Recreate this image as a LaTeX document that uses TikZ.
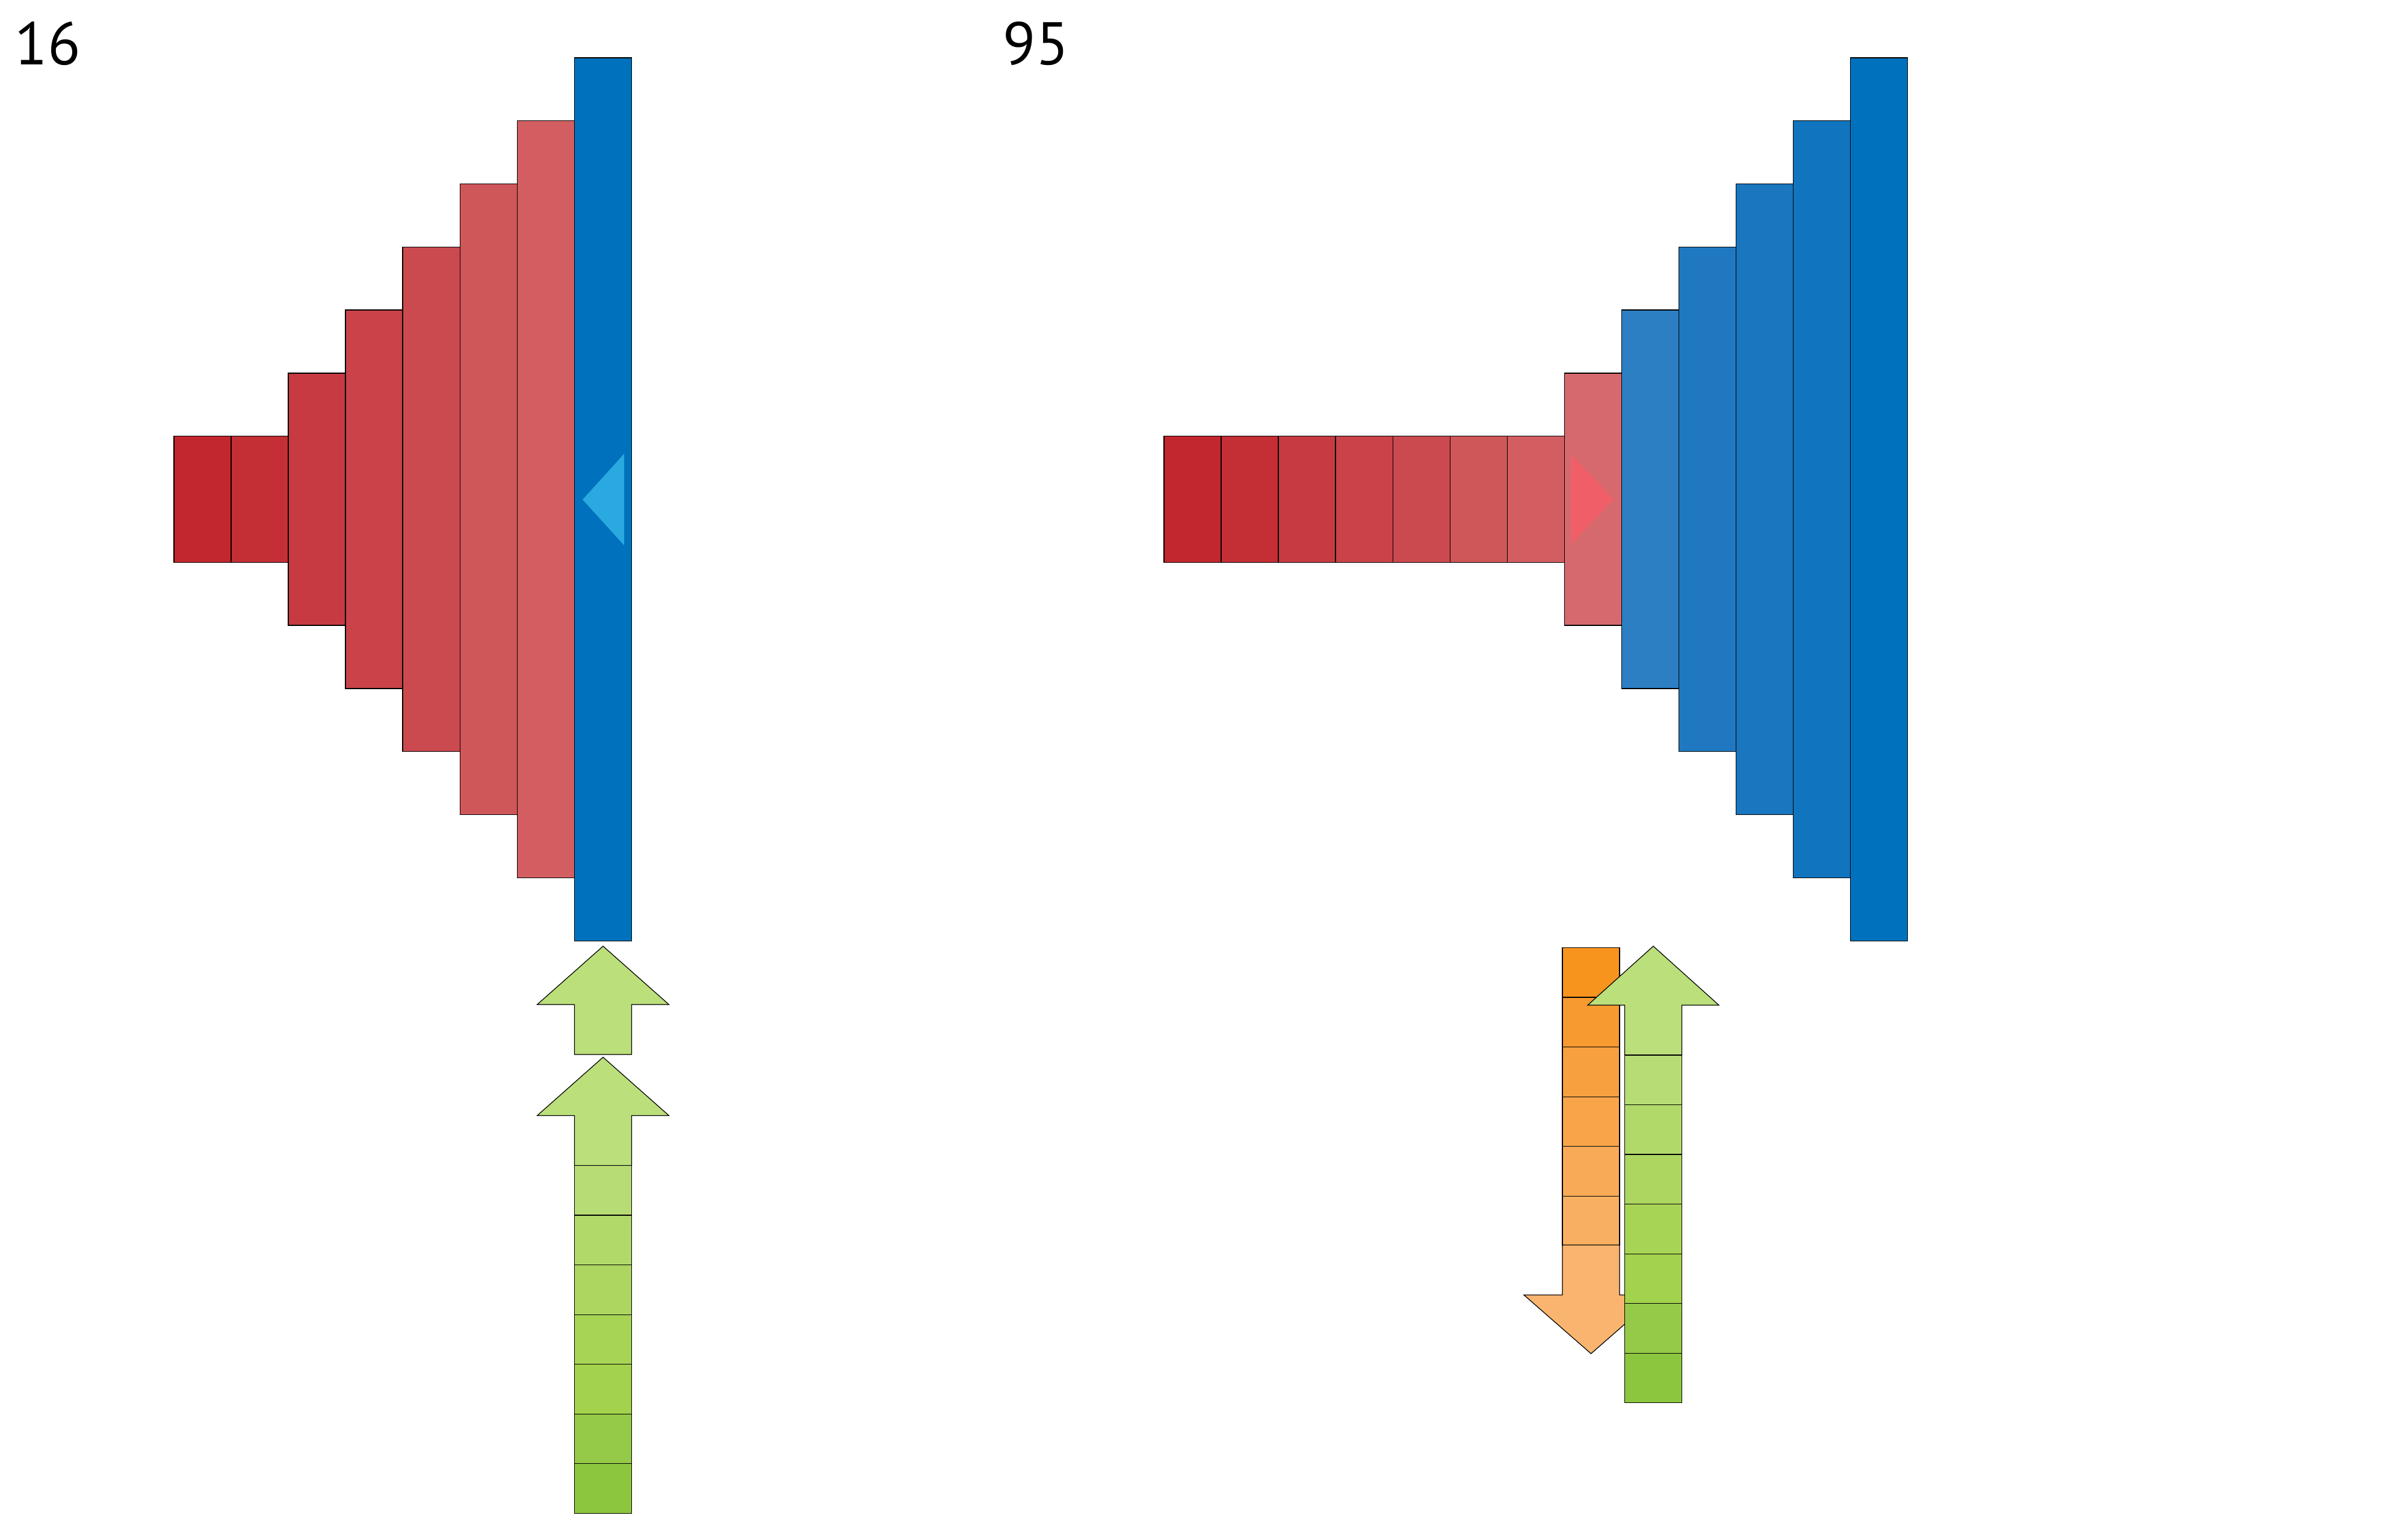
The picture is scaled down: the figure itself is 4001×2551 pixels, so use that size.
\documentclass[tikz,border=0pt]{standalone}
\usepackage{fontspec}
\setmainfont{PT Sans}
\usepackage{tikz}
\usetikzlibrary{positioning}
\usepackage{xcolor}

\definecolor{rojoA}{HTML}{C1272D}
\definecolor{rojoB}{HTML}{C42E35}
\definecolor{rojoC}{HTML}{C73A41}
\definecolor{rojoD}{HTML}{C94349}
\definecolor{rojoE}{HTML}{CB4A4F}
\definecolor{rojoF}{HTML}{CF5659}
\definecolor{rojoG}{HTML}{D25E61}
\definecolor{rosa}{HTML}{D6696D}
\definecolor{azul}{HTML}{0071BC}
\definecolor{azulA}{HTML}{2C7FC3}
\definecolor{azulB}{HTML}{2079C0}
\definecolor{azulC}{HTML}{1A76BF}
\definecolor{azulD}{HTML}{1074BE}
\definecolor{celeste}{HTML}{29A9E0}
\definecolor{salmon}{HTML}{F05F68}
\definecolor{verdeP}{HTML}{BBDF7B}
\definecolor{verdeA}{HTML}{B7DC75}
\definecolor{verdeB}{HTML}{B1D96A}
\definecolor{verdeC}{HTML}{ACD660}
\definecolor{verdeD}{HTML}{A8D456}
\definecolor{verdeE}{HTML}{A3D24C}
\definecolor{verdeF}{HTML}{94CA48}
\definecolor{verdeG}{HTML}{8CC63F}
\definecolor{naranjaA}{HTML}{F7941D}
\definecolor{naranjaB}{HTML}{F79A2F}
\definecolor{naranjaC}{HTML}{F7A03F}
\definecolor{naranjaD}{HTML}{F8A54A}
\definecolor{naranjaE}{HTML}{F8AA56}
\definecolor{naranjaF}{HTML}{F9AF61}
\definecolor{naranjaP}{HTML}{F9B46F}

\begin{document}
\begin{tikzpicture}[x=0.01cm,y=-0.01cm]
\tikzset{
    barra/.style={rectangle, draw=black, line width=0.4pt, minimum width=0.95cm,
                  inner sep=0pt, outer sep=0pt},
    celda/.style={rectangle, draw=black, line width=0.35pt, minimum width=0.95cm,
                  minimum height=0.825cm, inner sep=0pt, outer sep=0pt},
    flecha/.style={draw=black, line width=0.35pt, line join=miter},
    punta/.style={draw=none},
    etiqueta/.style={inner sep=0pt, anchor=base west, font=\fontsize{28.5}{28.5}\selectfont}
}
\useasboundingbox (0,0) rectangle (4001,2551);

% panel izquierdo
\node[etiqueta] (t16) at (24,107) {16};
\node[barra, fill=rojoA, minimum height=2.095cm] (i1) at (336.5,829.5) {};
\node[barra, fill=rojoB, minimum height=2.095cm, right=0cm of i1] (i2) {};
\node[barra, fill=rojoC, minimum height=4.19cm, right=0cm of i2] (i3) {};
\node[barra, fill=rojoD, minimum height=6.285cm, right=0cm of i3] (i4) {};
\node[barra, fill=rojoE, minimum height=8.38cm, right=0cm of i4] (i5) {};
\node[barra, fill=rojoF, minimum height=10.475cm, right=0cm of i5] (i6) {};
\node[barra, fill=rojoG, minimum height=12.57cm, right=0cm of i6] (i7) {};
\node[barra, fill=azul, minimum height=14.665cm, right=0cm of i7] (iazul) {};
\fill[punta, celeste] (968,830) -- (1037,754) -- (1037,906) -- cycle;

\fill[flecha, fill=verdeP] (954.5,1752) -- (954.5,1669) -- (892.5,1669) -- (1002,1572)
    -- (1111.5,1669) -- (1049.5,1669) -- (1049.5,1752) -- cycle;
\fill[flecha, fill=verdeP] (954.5,1936.5) -- (954.5,1853.5) -- (892.5,1853.5) -- (1002,1756.5)
    -- (1111.5,1853.5) -- (1049.5,1853.5) -- (1049.5,1936.5) -- cycle;
\node[celda, fill=verdeA] (vi1) at (1002,1977.75) {};
\node[celda, fill=verdeB, below=0cm of vi1] (vi2) {};
\node[celda, fill=verdeC, below=0cm of vi2] (vi3) {};
\node[celda, fill=verdeD, below=0cm of vi3] (vi4) {};
\node[celda, fill=verdeE, below=0cm of vi4] (vi5) {};
\node[celda, fill=verdeF, below=0cm of vi5] (vi6) {};
\node[celda, fill=verdeG, below=0cm of vi6] (vi7) {};

% panel derecho
\node[etiqueta] (t95) at (1666,107) {95};
\node[barra, fill=rojoA, minimum height=2.095cm] (d1) at (1981.5,829.5) {};
\node[barra, fill=rojoB, minimum height=2.095cm, right=0cm of d1] (d2) {};
\node[barra, fill=rojoC, minimum height=2.095cm, right=0cm of d2] (d3) {};
\node[barra, fill=rojoD, minimum height=2.095cm, right=0cm of d3] (d4) {};
\node[barra, fill=rojoE, minimum height=2.095cm, right=0cm of d4] (d5) {};
\node[barra, fill=rojoF, minimum height=2.095cm, right=0cm of d5] (d6) {};
\node[barra, fill=rojoG, minimum height=2.095cm, right=0cm of d6] (d7) {};
\node[barra, fill=rosa, minimum height=4.19cm, right=0cm of d7] (drosa) {};
\node[barra, fill=azulA, minimum height=6.285cm, right=0cm of drosa] (da1) {};
\node[barra, fill=azulB, minimum height=8.38cm, right=0cm of da1] (da2) {};
\node[barra, fill=azulC, minimum height=10.475cm, right=0cm of da2] (da3) {};
\node[barra, fill=azulD, minimum height=12.57cm, right=0cm of da3] (da4) {};
\node[barra, fill=azul, minimum height=14.665cm, right=0cm of da4] (da5) {};
\fill[punta, salmon] (2611,755) -- (2681,829.5) -- (2611,904) -- cycle;

\node[celda, fill=naranjaA] (n1) at (2643.5,1615.75) {};
\node[celda, fill=naranjaB, below=0cm of n1] (n2) {};
\node[celda, fill=naranjaC, below=0cm of n2] (n3) {};
\node[celda, fill=naranjaD, below=0cm of n3] (n4) {};
\node[celda, fill=naranjaE, below=0cm of n4] (n5) {};
\node[celda, fill=naranjaF, below=0cm of n5] (n6) {};
\fill[flecha, fill=naranjaP] (2596,2068.5) -- (2596,2151.5) -- (2532,2151.5) -- (2643.5,2249)
    -- (2755,2151.5) -- (2691,2151.5) -- (2691,2068.5) -- cycle;

\fill[flecha, fill=verdeP] (2699.5,1753) -- (2699.5,1670) -- (2638,1670) -- (2747,1572)
    -- (2856,1670) -- (2794.5,1670) -- (2794.5,1753) -- cycle;
\node[celda, fill=verdeA] (vd1) at (2747,1794.25) {};
\node[celda, fill=verdeB, below=0cm of vd1] (vd2) {};
\node[celda, fill=verdeC, below=0cm of vd2] (vd3) {};
\node[celda, fill=verdeD, below=0cm of vd3] (vd4) {};
\node[celda, fill=verdeE, below=0cm of vd4] (vd5) {};
\node[celda, fill=verdeF, below=0cm of vd5] (vd6) {};
\node[celda, fill=verdeG, below=0cm of vd6] (vd7) {};

\end{tikzpicture}
\end{document}
